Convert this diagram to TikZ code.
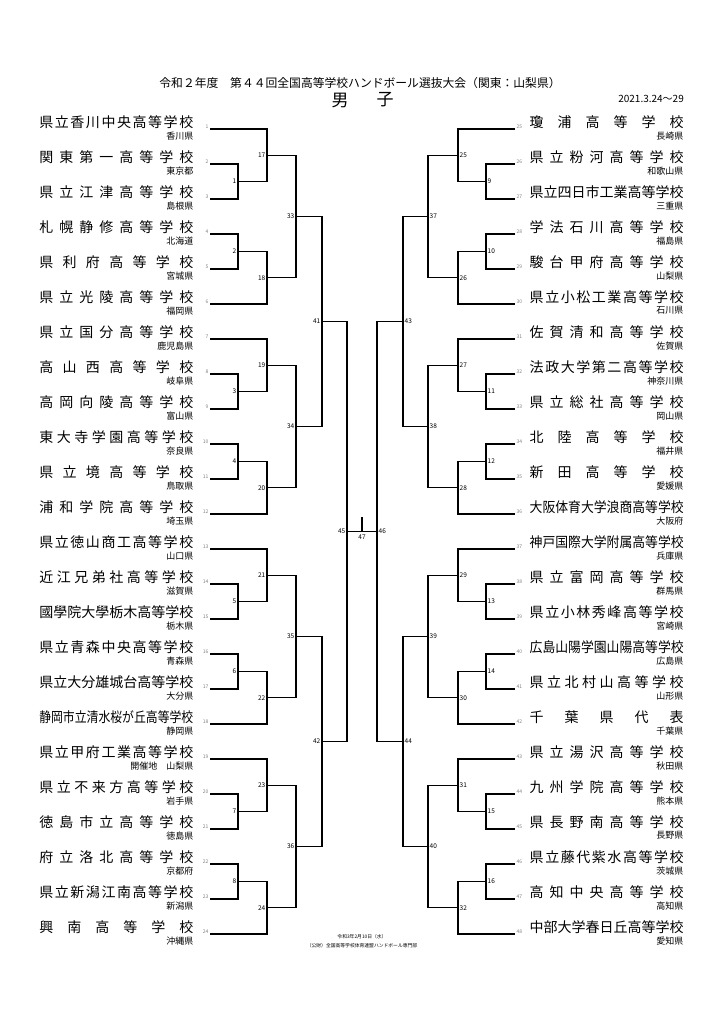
\documentclass[tikz,border=0pt]{standalone}
\usepackage{fontspec}
\usepackage{graphicx}
\usetikzlibrary{calc}
\setmainfont{Noto Sans CJK JP}
\newlength\namewd
\setlength\namewd{154pt}
\newsavebox\namebox
\def\spreadaux#1#2{#1\ifx\relax#2\else\hfill\expandafter\spreadaux\expandafter#2\fi}
\newcommand\schoolname[1]{\edef\tmpnm{#1}\sbox\namebox{\tmpnm}%
	\ifdim\wd\namebox>\namewd\resizebox{\namewd}{\height}{\usebox\namebox}%
	\else\hbox to\namewd{\expandafter\spreadaux\tmpnm\relax}\fi}
\tikzset{
	school/.style={inner sep=0pt, font=\fontsize{14}{14}\selectfont},
	pref/.style={inner sep=0pt, font=\fontsize{9}{9}\selectfont},
	seed/.style={inner sep=0.8pt, text=black!50, font=\fontsize{5}{5}\selectfont},
	game/.style={inner sep=1.5pt, font=\fontsize{6.5}{6.5}\selectfont},
	bracket/.style={line width=1.3pt}
}
\begin{document}
\begin{tikzpicture}[x=1pt, y=-1pt]
	\useasboundingbox (0,0) rectangle (724,1024);
	\node (title)[font=\fontsize{11.8}{12}\selectfont] at (360,83) {令和２年度　第４４回全国高等学校ハンドボール選抜大会（関東：山梨県）};
	\node (men)[font=\fontsize{17}{17}\selectfont] at (340,100) {男};
	\node (boys)[font=\fontsize{17}{17}\selectfont] at (385,100) {子};
	\node (date)[anchor=east, inner sep=0pt, font=\fontsize{10}{10}\selectfont] at (684,99) {2021.3.24～29};
	\foreach \nm/\pf [count=\k] in {県立香川中央高等学校/香川県, 関東第一高等学校/東京都, 県立江津高等学校/島根県, 札幌静修高等学校/北海道, 県利府高等学校/宮城県, 県立光陵高等学校/福岡県, 県立国分高等学校/鹿児島県, 高山西高等学校/岐阜県, 高岡向陵高等学校/富山県, 東大寺学園高等学校/奈良県, 県立境高等学校/鳥取県, 浦和学院高等学校/埼玉県, 県立徳山商工高等学校/山口県, 近江兄弟社高等学校/滋賀県, 國學院大學栃木高等学校/栃木県, 県立青森中央高等学校/青森県, 県立大分雄城台高等学校/大分県, 静岡市立清水桜が丘高等学校/静岡県, 県立甲府工業高等学校/開催地　山梨県, 県立不来方高等学校/岩手県, 徳島市立高等学校/徳島県, 府立洛北高等学校/京都府, 県立新潟江南高等学校/新潟県, 興南高等学校/沖縄県}
	{
		\pgfmathsetmacro\yy{129+35*(\k-1)}
		\coordinate (t\k) at (210,\yy);
		\node (n\k)[school, anchor=east] at (193.5,\yy-6.5) {\schoolname{\nm}};
		\node (p\k)[pref, anchor=east] at (193.5,\yy+6.7) {\pf};
		\node (s\k)[seed, anchor=east] at (209.5,\yy-2) {\k};
	}
	\foreach \nm/\pf [count=\k from 25] in {瓊浦高等学校/長崎県, 県立粉河高等学校/和歌山県, 県立四日市工業高等学校/三重県, 学法石川高等学校/福島県, 駿台甲府高等学校/山梨県, 県立小松工業高等学校/石川県, 佐賀清和高等学校/佐賀県, 法政大学第二高等学校/神奈川県, 県立総社高等学校/岡山県, 北陸高等学校/福井県, 新田高等学校/愛媛県, 大阪体育大学浪商高等学校/大阪府, 神戸国際大学附属高等学校/兵庫県, 県立富岡高等学校/群馬県, 県立小林秀峰高等学校/宮崎県, 広島山陽学園山陽高等学校/広島県, 県立北村山高等学校/山形県, 千葉県代表/千葉県, 県立湯沢高等学校/秋田県, 九州学院高等学校/熊本県, 県長野南高等学校/長野県, 県立藤代紫水高等学校/茨城県, 高知中央高等学校/高知県, 中部大学春日丘高等学校/愛知県}
	{
		\pgfmathsetmacro\yy{129+35*(\k-25)}
		\coordinate (t\k) at (515,\yy);
		\node (n\k)[school, anchor=west] at (529.5,\yy-6.5) {\schoolname{\nm}};
		\node (p\k)[pref, anchor=east] at (683.5,\yy+6.7) {\pf};
		\node (s\k)[seed, anchor=west] at (515.5,\yy-2) {\k};
	}
	\foreach \m/\a/\b/\x in {1/t2/t3/238, 2/t4/t5/238, 17/t1/m1/267, 18/m2/t6/267, 33/m17/m18/296, 3/t8/t9/238, 4/t10/t11/238, 19/t7/m3/267, 20/m4/t12/267, 34/m19/m20/296, 5/t14/t15/238, 6/t16/t17/238, 21/t13/m5/267, 22/m6/t18/267, 35/m21/m22/296, 7/t20/t21/238, 8/t22/t23/238, 23/t19/m7/267, 24/m8/t24/267, 36/m23/m24/296, 41/m33/m34/322, 42/m35/m36/322, 45/m41/m42/347}
	{
		\coordinate (h\m) at ($(\a)!0.5!(\b)$);
		\coordinate (m\m) at (\x,0 |- h\m);
		\draw[bracket] (\a) -| (m\m) |- (\b);
		\node (g\m)[game, anchor=east] at (m\m) {\m};
	}
	\foreach \m/\a/\b/\x in {9/t26/t27/486, 10/t28/t29/486, 25/t25/m9/458, 26/m10/t30/458, 37/m25/m26/428, 11/t32/t33/486, 12/t34/t35/486, 27/t31/m11/458, 28/m12/t36/458, 38/m27/m28/428, 13/t38/t39/486, 14/t40/t41/486, 29/t37/m13/458, 30/m14/t42/458, 39/m29/m30/428, 15/t44/t45/486, 16/t46/t47/486, 31/t43/m15/458, 32/m16/t48/458, 40/m31/m32/428, 43/m37/m38/403, 44/m39/m40/403, 46/m43/m44/377}
	{
		\coordinate (h\m) at ($(\a)!0.5!(\b)$);
		\coordinate (m\m) at (\x,0 |- h\m);
		\draw[bracket] (\a) -| (m\m) |- (\b);
		\node (g\m)[game, anchor=west] at (m\m) {\m};
	}
	\coordinate (m47) at ($(m45)!0.5!(m46)$);
	\coordinate (top47) at ($(m47)+(0,-15)$);
	\draw[bracket] (m45) -- (m46);
	\draw[bracket] (m47) -- (top47);
	\node (g47)[game, anchor=north] at ($(m47)+(0,2)$) {47};
	\node (held)[font=\fontsize{4.8}{5}\selectfont] at (362,937) {令和3年2月10日（水）};
	\node (org)[font=\fontsize{4.8}{5}\selectfont] at (362,946) {（公財）全国高等学校体育連盟ハンドボール専門部};
\end{tikzpicture}
\end{document}
